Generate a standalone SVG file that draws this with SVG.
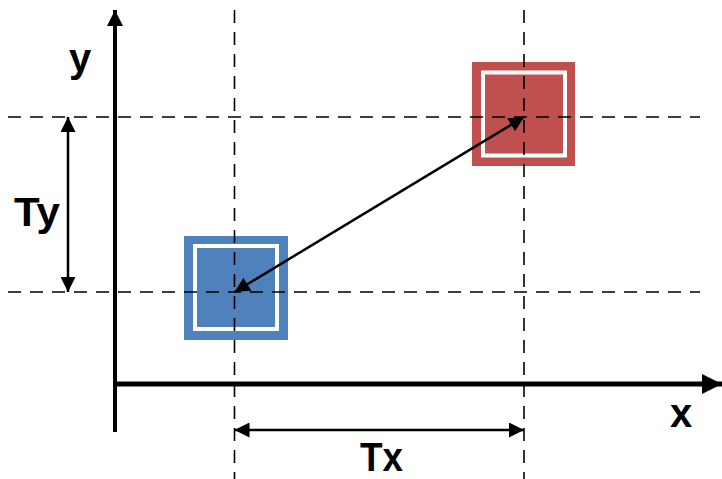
<svg xmlns="http://www.w3.org/2000/svg" width="722" height="479" viewBox="0 0 722 479">
<defs>
<style>
.dash{stroke:#000;stroke-width:1.6;stroke-dasharray:13 9;fill:none}
.axis{stroke:#000;fill:none}
.dim{stroke:#000;stroke-width:2.5;fill:none}
.lbl{font-family:"Liberation Sans",Arial,sans-serif;font-weight:bold;font-size:40px;fill:#000}
</style>
<marker id="ah" viewBox="0 0 10 10" refX="10" refY="5" markerWidth="6.5" markerHeight="6" orient="auto-start-reverse" markerUnits="strokeWidth">
<path d="M0,0 L10,5 L0,10 Z" fill="#000"/>
</marker>
<marker id="axh" viewBox="0 0 10 10" refX="10" refY="5" markerWidth="4" markerHeight="4" orient="auto" markerUnits="strokeWidth">
<path d="M0,0 L10,5 L0,10 Z" fill="#000"/>
</marker>
</defs>
<rect width="722" height="479" fill="#fff"/>
<g id="blue-square">
<rect x="184" y="236" width="104" height="104" fill="#4f81bd"/>
<rect x="195" y="246" width="82" height="83" fill="none" stroke="#fff" stroke-width="4"/>
</g>
<g id="red-square">
<rect x="472" y="62" width="103" height="104" fill="#c0504d"/>
<rect x="483" y="72.5" width="82" height="83" fill="none" stroke="#fff" stroke-width="4"/>
</g>
<g id="connectors">
<line class="dash" x1="8" y1="117" x2="700" y2="117"/>
<line class="dash" x1="8" y1="292" x2="700" y2="292"/>
<line class="dash" x1="234.5" y1="10" x2="234.5" y2="479"/>
<line class="dash" x1="524" y1="10" x2="524" y2="479"/>
<line class="axis" stroke-width="4" x1="115" y1="432" x2="115" y2="10" marker-end="url(#axh)"/>
<line class="axis" stroke-width="5" x1="113" y1="384" x2="722" y2="384" marker-end="url(#axh)"/>
<line class="dim" x1="68" y1="117" x2="68" y2="292" marker-start="url(#ah)" marker-end="url(#ah)"/>
<line class="dim" x1="234.5" y1="430" x2="524" y2="430" marker-start="url(#ah)" marker-end="url(#ah)"/>
<line class="dim" x1="524" y1="117" x2="234.5" y2="292" marker-start="url(#ah)" marker-end="url(#ah)"/>
</g>
<g id="labels">
<text class="lbl" x="80" y="72" text-anchor="middle">y</text>
<text class="lbl" x="37" y="226" text-anchor="middle" textLength="46" lengthAdjust="spacingAndGlyphs">Ty</text>
<text class="lbl" x="681" y="427" text-anchor="middle">x</text>
<text class="lbl" x="381.5" y="471" text-anchor="middle" textLength="43" lengthAdjust="spacingAndGlyphs">Tx</text>
</g>
</svg>
